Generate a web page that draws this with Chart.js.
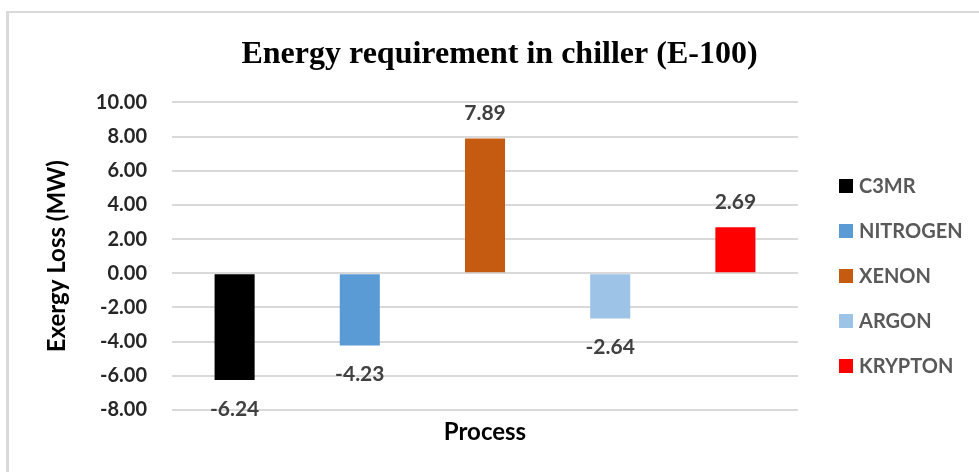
<!DOCTYPE html>
<html>
<head>
<meta charset="utf-8">
<script src="https://cdn.jsdelivr.net/npm/chart.js@4"></script>
<style>
  html, body { margin: 0; padding: 0; background: #fff; }
  #wrap { position: relative; width: 979px; height: 472px; overflow: hidden; }
  #frame { position: absolute; left: 6px; top: 11px; width: 1000px; height: 500px;
           border-left: 3px solid #d9d9d9; border-top: 2px solid #d9d9d9; }
  #chartExergy { position: absolute; left: 0; top: 0; }
</style>
</head>
<body>
<div id="wrap">
  <div id="frame"></div>
  <canvas id="chartExergy" width="979" height="472"></canvas>
</div>
<script>
// dados (Exergy Loss em MW por processo)
const categories = [''];
const processes = ['C3MR', 'NITROGEN', 'XENON', 'ARGON', 'KRYPTON'];
const exergyLoss = [-6.24, -4.23, 7.89, -2.64, 2.69];
const barColors = ['#000000', '#5b9bd5', '#c55a11', '#9dc3e6', '#ff0000'];
const yTicks = [-8, -6, -4, -2, 0, 2, 4, 6, 8, 10];

const LABEL_FONT = 'Lato, "Open Sans", sans-serif';

// rotulos de valor acima/abaixo da ponta de cada barra
const valueLabels = {
  id: 'valueLabels',
  afterDatasetsDraw(chart) {
    const { ctx } = chart;
    ctx.save();
    ctx.font = `bold 21px ${LABEL_FONT}`;
    ctx.fillStyle = '#404040';
    ctx.textAlign = 'center';
    ctx.textBaseline = 'middle';
    chart.data.datasets.forEach((ds, i) => {
      const bar = chart.getDatasetMeta(i).data[0];
      const v = ds.data[0];
      const y = v >= 0 ? bar.y - 25 : bar.y + 29;
      ctx.fillText(v.toFixed(2), bar.x, y);
    });
    ctx.restore();
  },
};

// legenda na direita, um item por processo
const sideLegend = {
  id: 'sideLegend',
  afterDraw(chart) {
    const { ctx } = chart;
    ctx.save();
    ctx.font = `bold 20px ${LABEL_FONT}`;
    ctx.textBaseline = 'middle';
    chart.data.datasets.forEach((ds, i) => {
      const cy = 186 + i * 45;
      ctx.fillStyle = ds.backgroundColor;
      ctx.fillRect(839, cy - 7, 14, 14);
      ctx.fillStyle = '#595959';
      ctx.fillText(ds.label, 859, cy + 1);
    });
    ctx.restore();
  },
};

new Chart(document.getElementById('chartExergy'), {
  type: 'bar',
  data: {
    labels: categories,
    datasets: processes.map((name, i) => ({
      label: name,
      data: [exergyLoss[i]],
      backgroundColor: barColors[i],
      categoryPercentage: 1,
      barPercentage: 0.32,
    })),
  },
  options: {
    responsive: false,
    animation: false,
    layout: { padding: { left: 20, right: 0, top: 0, bottom: 0 } },
    plugins: {
      legend: { display: false },
      tooltip: { enabled: false },
      title: {
        display: true,
        text: 'Energy requirement in chiller (E-100)',
        color: '#000',
        font: { family: '"Liberation Serif", "Times New Roman", serif', size: 32, weight: 'bold' },
        padding: { top: 36, bottom: 28 },
      },
    },
    scales: {
      x: {
        grid: { display: false },
        border: { display: false },
        ticks: { display: false },
        title: {
          display: true,
          text: 'Process',
          color: '#000',
          font: { family: LABEL_FONT, size: 24, weight: 'bold' },
          padding: { top: 0, bottom: 25 },
        },
        afterFit: (s) => { s.height = 62; },
      },
      y: {
        min: -8,
        max: 10,
        afterBuildTicks: (s) => { s.ticks = yTicks.map((v) => ({ value: v })); },
        grid: { color: '#d9d9d9', lineWidth: 2, drawTicks: false },
        border: { display: false },
        ticks: {
          padding: 25,
          color: '#262626',
          font: { family: LABEL_FONT, size: 20, weight: 'bold' },
          callback: (v) => Number(v).toFixed(2),
        },
        title: {
          display: true,
          text: 'Exergy Loss (MW)',
          color: '#000',
          font: { family: LABEL_FONT, size: 24, weight: 'bold' },
          padding: { top: 23, bottom: 0 },
        },
        afterFit: (s) => { s.width = 152; },
      },
      // eixo vazio so para reservar o espaco da legenda na direita
      yLegend: {
        position: 'right',
        display: true,
        grid: { display: false },
        border: { display: false },
        ticks: { display: false },
        afterFit: (s) => { s.width = 181; },
      },
    },
  },
  plugins: [valueLabels, sideLegend],
});
</script>
</body>
</html>
